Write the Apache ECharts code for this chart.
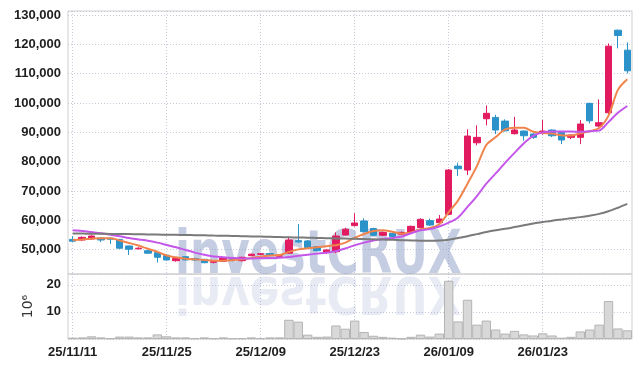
<!DOCTYPE html>
<html><head><meta charset="utf-8">
<script src="https://cdn.jsdelivr.net/npm/echarts@6/dist/echarts.min.js"></script>
<style>html,body{margin:0;padding:0;background:#fff}#c{width:642px;height:368px}</style>
</head><body><div id="c"></div>
<script>
const dates = ['25/11/11','25/11/12','25/11/13','25/11/14','25/11/17','25/11/18','25/11/19','25/11/20','25/11/21','25/11/24',
'25/11/25','25/11/26','25/11/27','25/11/28','25/12/01','25/12/02','25/12/03','25/12/04','25/12/05','25/12/08',
'25/12/09','25/12/10','25/12/11','25/12/12','25/12/15','25/12/16','25/12/17','25/12/18','25/12/19','25/12/22',
'25/12/23','25/12/24','25/12/26','25/12/29','25/12/30','26/01/02','26/01/05','26/01/06','26/01/07','26/01/08',
'26/01/09','26/01/12','26/01/13','26/01/14','26/01/15','26/01/16','26/01/19','26/01/20','26/01/21','26/01/22',
'26/01/23','26/01/26','26/01/27','26/01/28','26/01/29','26/01/30','26/02/02','26/02/03','26/02/04','26/02/05'];

const opens = [53500,53300,53650,54000,53900,53500,51250,50300,49650,49000,
48100,46250,47600,46950,46700,45700,46050,46900,46250,47950,
48400,48650,47750,48800,53050,52950,51000,49000,49300,55000,
58200,59800,57200,54900,55600,55250,56050,57500,59900,59200,
62050,78500,77150,86450,94650,95100,93850,89550,90450,89450,
89650,90800,90000,88300,88300,99900,92150,96700,124850,118050];
const closes = [52900,54200,54650,53300,53550,50500,50150,50500,48800,47400,
46500,46950,46500,46500,45550,45900,47150,46500,47400,48450,
48600,48100,47950,53300,52650,50700,49650,49900,54650,56950,
59100,56150,54900,55900,54450,55900,57950,60350,58400,60450,
77150,77600,88750,88300,96500,90800,90550,90800,88850,88300,
90450,88850,87400,89100,92850,93950,93300,119400,123050,111000];
const lows = [52600,52900,53300,52600,51950,50300,48200,50100,48600,45600,
46300,45900,46300,46100,45400,45300,45900,46000,46000,47800,
48200,47900,47400,48500,52300,50500,49500,48600,48800,54800,
57900,55900,54700,54600,54200,55000,55800,57200,58100,58900,
61900,75100,75450,85600,92400,89400,90300,89300,87150,87800,
89200,88400,86000,87700,86000,93050,91900,95300,118650,110100];
const highs = [54600,54500,54900,54200,54100,53700,51400,50800,49900,49100,
48250,47200,47800,47200,46900,46300,47300,47100,47600,48650,
48900,48800,48300,54450,58750,53200,51200,50100,55900,57500,
62400,60700,57500,56100,55800,56200,58200,60700,60600,61800,
77500,79650,91050,92400,99200,96000,94450,95300,90700,89700,
94200,91000,90300,89300,94200,100100,101250,120350,125100,120700];

const ma5 = [53300,53500,53750,53900,53900,53150,52300,51400,50300,49300,
48000,47400,46900,46700,46500,46250,46250,46400,46700,47150,
47600,48050,48150,49250,50100,50500,50800,51200,51500,52400,
54050,55350,56350,56600,56100,55450,55850,56900,57400,58700,
62800,66800,72500,78500,85700,88400,91000,91600,91600,90200,
89800,89600,89000,88900,89700,90400,91500,95700,104500,108100];
const ma10 = [56600,56400,56000,55600,55100,54550,53950,53500,53050,52400,
51600,50800,49900,49000,48250,47700,47400,47150,47000,47000,
47100,47150,47250,47500,47900,48300,48650,48950,49500,50400,
51500,52400,53100,53600,54000,54500,55600,56600,57000,57900,
59200,61000,64600,68300,72500,76000,79600,83000,86300,88800,
90000,90300,90300,90300,90200,90400,90600,93500,96700,99000];
const maLong = [55500,55480,55450,55420,55380,55340,55300,55250,55200,55150,
55100,55050,55000,54950,54900,54820,54750,54680,54600,54520,
54450,54380,54300,54220,54150,54080,54000,53920,53850,53780,
53700,53620,53550,53450,53350,53250,53150,53080,53020,53100,
53400,54000,54600,55300,56000,56600,57100,57700,58300,58900,
59400,59900,60300,60700,61100,61600,62200,63100,64300,65600];

const volumes = [0.5,0.6,1.0,0.6,0.3,0.9,0.9,0.6,0.6,1.7,
1.0,0.6,0.6,0.3,0.6,0.3,0.6,0.3,0.3,0.6,
0.3,0.6,0.6,7.1,6.4,1.6,0.8,0.9,5.0,3.8,
6.8,2.6,1.2,0.8,0.5,0.2,0.8,1.6,0.9,2.0,
21.5,6.5,14.5,5.3,6.8,3.5,2.0,3.0,1.7,1.3,
2.1,1.3,0.5,0.8,2.8,3.5,5.3,14.0,3.9,3.2];

const priceTicks = [50000,60000,70000,80000,90000,100000,110000,120000,130000];
const volTicks = [10,20];

const upColor = '#e21b60';
const downColor = '#2b93c9';
const labelFont = "'Liberation Sans',Arial,sans-serif";
const gridDot = {color:'#c6cadb', type:[1,2], width:1};
const wmFont = 'bold 60px "DejaVu Sans"';

const chart = echarts.init(document.getElementById('c'));
const candleData = dates.map((d,i)=>[opens[i],closes[i],lows[i],highs[i]]);

chart.setOption({
  animation:false,
  backgroundColor:'#fff',
  grid:[
    {left:68, right:10, top:11, height:263, show:true, borderColor:'#cfcfcf', borderWidth:1, containLabel:false},
    {left:68, right:10, top:274, height:65, show:true, borderColor:'#cfcfcf', borderWidth:1, containLabel:false}
  ],
  xAxis:[
    {type:'category', gridIndex:0, data:dates, boundaryGap:true,
     axisLine:{show:false}, axisTick:{show:false}, axisLabel:{show:false},
     splitLine:{show:true, interval:9, alignWithLabel:true, lineStyle:gridDot}},
    {type:'category', gridIndex:1, data:dates, boundaryGap:true,
     axisLine:{show:false}, axisTick:{show:false},
     axisLabel:{show:true, interval:9, color:'#1e1e1e', fontSize:13, fontWeight:'bold', fontFamily:labelFont, margin:7},
     splitLine:{show:true, interval:9, alignWithLabel:true, lineStyle:gridDot}}
  ],
  yAxis:[
    {type:'value', gridIndex:0, min:41700, max:131400, splitNumber:9, minInterval:10000, maxInterval:10000,
     axisLine:{show:false}, axisTick:{show:false},
     axisLabel:{color:'#1e1e1e', fontSize:13, fontWeight:'bold', fontFamily:labelFont, margin:7,
       formatter:v=>priceTicks.indexOf(v)>=0 ? v.toLocaleString('en-US') : ''},
     splitLine:{show:true, lineStyle:gridDot}},
    {type:'value', gridIndex:1, min:0, max:24, interval:10,
     name:'10\u2076', nameLocation:'middle', nameRotate:90, nameGap:28,
     nameTextStyle:{color:'#333', fontSize:14, fontFamily:"'DejaVu Sans',sans-serif"},
     axisLine:{show:false}, axisTick:{show:false},
     axisLabel:{color:'#1e1e1e', fontSize:13, fontWeight:'bold', fontFamily:labelFont, margin:7,
       formatter:v=>volTicks.indexOf(v)>=0 ? String(v) : ''},
     splitLine:{show:true, lineStyle:gridDot}}
  ],
  graphic:[
    {type:'text', x:175, y:275, scaleX:0.73, z:1, silent:true,
     style:{text:'investCRUX', x:0, y:12, font:wmFont, fill:'rgba(140,155,198,0.5)', align:'left', verticalAlign:'bottom'}},
    {type:'text', x:175, y:275, scaleX:0.73, scaleY:-0.85, z:1, silent:true,
     style:{text:'investCRUX', x:0, y:12, font:wmFont, fill:'rgba(140,155,198,0.2)', align:'left', verticalAlign:'bottom'}}
  ],
  series:[
    {name:'price', type:'candlestick', xAxisIndex:0, yAxisIndex:0, data:candleData, barWidth:'72%', z:3,
     itemStyle:{color:upColor, color0:downColor, borderColor:upColor, borderColor0:downColor, borderWidth:1}},
    {name:'MA5', type:'line', xAxisIndex:0, yAxisIndex:0, data:ma5, smooth:0.3, showSymbol:false, z:4,
     lineStyle:{color:'#f0844c', width:2}},
    {name:'MA10', type:'line', xAxisIndex:0, yAxisIndex:0, data:ma10, smooth:0.3, showSymbol:false, z:4,
     lineStyle:{color:'#c457ea', width:2}},
    {name:'MALong', type:'line', xAxisIndex:0, yAxisIndex:0, data:maLong, smooth:0.3, showSymbol:false, z:4,
     lineStyle:{color:'#7a7a7a', width:2}},
    {name:'volume', type:'bar', xAxisIndex:1, yAxisIndex:1, data:volumes, barWidth:'100%', z:3,
     itemStyle:{color:'#d8d8d8', borderColor:'#b4b4b4', borderWidth:1}}
  ]
});
</script>
</body></html>
